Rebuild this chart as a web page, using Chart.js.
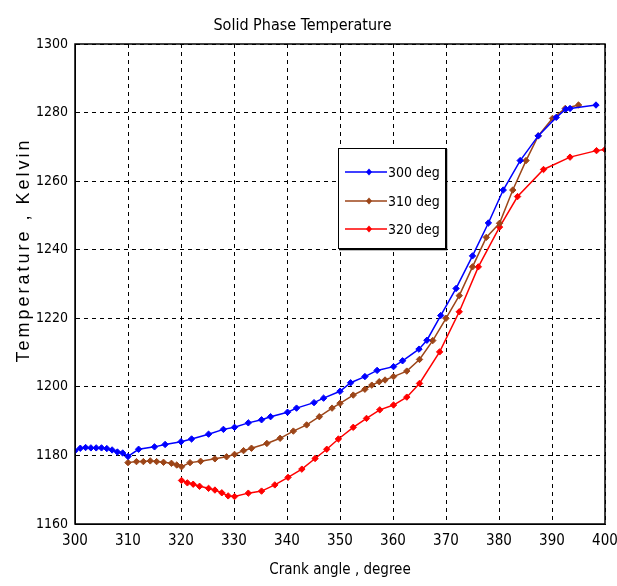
<!DOCTYPE html>
<html>
<head>
<meta charset="utf-8">
<title>Solid Phase Temperature</title>
<script src="https://cdn.jsdelivr.net/npm/chart.js@4.4.1/dist/chart.umd.min.js"></script>
<style>
    html, body { margin: 0; padding: 0; background: #fff; }
    #wrap { width: 617px; height: 586px; }
</style>
</head>
<body>
<div id="wrap"><canvas id="tempChart"></canvas></div>
<script>
// ==========================================================================
// Data (crank angle in degrees, temperature in K)
// ==========================================================================

const seriesLabels = ["300 deg", "310 deg", "320 deg"];
const seriesColors = ["#0000ff", "#9c4518", "#ff0000"];

const xTicks = [300, 310, 320, 330, 340, 350, 360, 370, 380, 390, 400];
const yTicks = [1160, 1180, 1200, 1220, 1240, 1260, 1280, 1300];

const angle300 = [300, 301, 302, 303, 304, 305, 306, 307, 308, 309, 310, 312, 315, 317, 320, 322,
    325.2, 328, 330.1, 332.7, 335.2, 336.9, 340.1, 341.8, 345.1, 346.9, 350, 352, 354.7, 357,
    360.1, 361.8, 364.9, 366.4, 369, 371.9, 375, 378, 380.8, 384, 387.4, 390.8, 392.6, 393.4, 398.3];
const temp300 = [1181.4, 1182.1, 1182.3, 1182.2, 1182.2, 1182.2, 1182.0, 1181.6, 1181.0, 1180.7, 1179.7, 1181.8, 1182.5, 1183.2, 1184.0, 1184.8,
    1186.2, 1187.6, 1188.2, 1189.5, 1190.4, 1191.3, 1192.6, 1193.8, 1195.4, 1196.7, 1198.7, 1201.2, 1203.0, 1204.8,
    1205.9, 1207.6, 1211.0, 1213.6, 1220.8, 1228.7, 1238.2, 1247.8, 1257.4, 1266.0, 1273.2, 1278.6, 1281.0, 1281.2, 1282.2];

const angle310 = [310, 311.6, 312.9, 314.2, 315.4, 316.7, 318.2, 319.2, 320.1, 321.7, 323.7, 326.4, 328.6, 330.1,
    331.8, 333.3, 336.2, 338.7, 341.2, 343.7, 346.1, 348.5, 350, 352.5, 354.7, 356, 357.4, 358.5, 360.1,
    362.6, 365, 367.5, 370, 372.5, 375, 377.6, 380.1, 382.6, 385.1, 387.4, 390.1, 392.5, 395];
const temp310 = [1177.9, 1178.2, 1178.2, 1178.4, 1178.2, 1178.0, 1177.7, 1177.2, 1176.7, 1177.9, 1178.3, 1179.0, 1179.6, 1180.3,
    1181.4, 1182.1, 1183.5, 1185.0, 1187.1, 1188.9, 1191.3, 1193.8, 1195.2, 1197.6, 1199.3, 1200.5, 1201.5, 1202.0, 1203.0,
    1204.6, 1208.0, 1213.5, 1220.0, 1226.6, 1235.0, 1243.6, 1247.7, 1257.4, 1266.0, 1273.2, 1278.3, 1281.2, 1282.2];

const angle320 = [320.1, 321.2, 322.3, 323.5, 325.2, 326.4, 327.7, 328.9, 330.1, 332.7, 335.2, 337.7, 340.2,
    342.8, 345.3, 347.5, 349.7, 352.5, 355, 357.5, 360.1, 362.6, 365, 368.8, 372.5, 376.1, 380.1,
    383.5, 388.4, 393.4, 398.4, 400];
const temp320 = [1172.7, 1172.0, 1171.6, 1171.0, 1170.4, 1169.9, 1169.1, 1168.2, 1168.0, 1169.0, 1169.6, 1171.4, 1173.6,
    1176.0, 1179.1, 1181.8, 1184.8, 1188.2, 1190.8, 1193.3, 1194.7, 1197.0, 1201.0, 1210.2, 1221.9, 1235.0, 1246.6,
    1255.5, 1263.4, 1267.0, 1268.9, 1269.2];

const angles = [angle300, angle310, angle320];
const temps = [temp300, temp310, temp320];

// ==========================================================================
// Fonts & small plugins (frame, boxed legend, spaced y-axis title)
// ==========================================================================

const NARROW = "'DejaVu Sans Condensed', 'Liberation Sans', sans-serif";

const framePlugin = {
    id: 'frameBox',
    afterDatasetsDraw(chart) {
        const { ctx, chartArea: a } = chart;
        ctx.save();
        ctx.strokeStyle = '#000';
        ctx.lineWidth = 1.5;
        ctx.setLineDash([]);
        ctx.strokeRect(a.left, a.top, a.right - a.left, a.bottom - a.top);
        ctx.restore();
    }
};

const boxLegendPlugin = {
    id: 'boxLegend',
    afterDatasetsDraw(chart) {
        const { ctx, chartArea: a } = chart;
        const left = a.left + 263, top = a.top + 104, w = 107, h = 100;
        ctx.save();
        ctx.setLineDash([]);
        ctx.fillStyle = '#fff';
        ctx.fillRect(left, top, w, h);
        ctx.strokeStyle = '#000';
        ctx.lineWidth = 1;
        ctx.strokeRect(left + 0.5, top + 0.5, w, h);
        ctx.lineWidth = 1.5;
        ctx.beginPath();
        ctx.moveTo(left + w + 1.5, top + 1);
        ctx.lineTo(left + w + 1.5, top + h + 1.5);
        ctx.lineTo(left + 1, top + h + 1.5);
        ctx.stroke();

        const rows = [24, 53, 81];
        chart.data.datasets.forEach((ds, i) => {
            const y = top + rows[i];
            ctx.strokeStyle = ds.borderColor;
            ctx.lineWidth = 1.5;
            ctx.beginPath();
            ctx.moveTo(left + 7, y);
            ctx.lineTo(left + 49, y);
            ctx.stroke();
            ctx.fillStyle = ds.borderColor;
            ctx.beginPath();
            ctx.moveTo(left + 31, y - 3.5);
            ctx.lineTo(left + 34, y);
            ctx.lineTo(left + 31, y + 3.5);
            ctx.lineTo(left + 28, y);
            ctx.closePath();
            ctx.fill();
            ctx.fillStyle = '#000';
            ctx.font = `14px ${NARROW}`;
            ctx.textAlign = 'left';
            ctx.textBaseline = 'middle';
            ctx.fillText(ds.label, left + 50, y + 1);
        });
        ctx.restore();
    }
};

const yTitlePlugin = {
    id: 'yTitle',
    afterDraw(chart) {
        const { ctx } = chart;
        ctx.save();
        ctx.translate(24, 250);
        ctx.rotate(-Math.PI / 2);
        ctx.font = "18px 'Liberation Sans', Arial, sans-serif";
        ctx.letterSpacing = '3px';
        ctx.fillStyle = '#000';
        ctx.textAlign = 'center';
        ctx.textBaseline = 'middle';
        ctx.fillText('Temperature , Kelvin', 0, 0);
        ctx.restore();
    }
};

// ==========================================================================
// Chart
// ==========================================================================

const datasets = seriesLabels.map((label, i) => ({
    label,
    data: angles[i].map((x, j) => ({ x, y: temps[i][j] })),
    borderColor: seriesColors[i],
    backgroundColor: seriesColors[i],
    borderWidth: 1.5,
    pointStyle: 'rectRot',
    pointRadius: 3.2,
    pointBorderWidth: 1,
    tension: 0
}));

new Chart(document.getElementById('tempChart'), {
    type: 'line',
    data: { datasets },
    options: {
        responsive: true,
        maintainAspectRatio: false,
        animation: false,
        devicePixelRatio: 1,
        layout: { padding: { left: 0, right: 12, top: 0, bottom: 0 } },
        plugins: {
            legend: { display: false },
            tooltip: { enabled: false },
            title: {
                display: true,
                text: 'Solid Phase Temperature',
                color: '#000',
                font: { family: NARROW, size: 16, weight: 'normal', lineHeight: 1.2 },
                padding: { top: 16, bottom: 8.8 }
            }
        },
        scales: {
            x: {
                type: 'linear',
                min: xTicks[0],
                max: xTicks[xTicks.length - 1],
                afterBuildTicks: s => { s.ticks = xTicks.map(v => ({ value: v })); },
                afterFit: s => { s.height = 62; s.paddingLeft = 0; s.paddingRight = 0; },
                ticks: { color: '#000', padding: 8, maxRotation: 0, font: { family: NARROW, size: 15 }, callback: v => String(v) },
                grid: { color: '#000', lineWidth: 1, drawTicks: false },
                border: { display: true, color: '#000', width: 1, dash: [4, 4] },
                title: {
                    display: true,
                    text: 'Crank angle , degree',
                    color: '#000',
                    font: { family: NARROW, size: 15, lineHeight: 1.2 },
                    padding: { top: 0, bottom: 7 }
                }
            },
            y: {
                type: 'linear',
                min: yTicks[0],
                max: yTicks[yTicks.length - 1],
                afterBuildTicks: s => { s.ticks = yTicks.map(v => ({ value: v })); },
                afterFit: s => { s.width = 75; s.paddingTop = 0; s.paddingBottom = 0; },
                ticks: { color: '#000', padding: 7, font: { family: NARROW, size: 14 }, callback: v => String(v) },
                grid: { color: '#000', lineWidth: 1, drawTicks: false },
                border: { display: true, color: '#000', width: 1, dash: [4, 4] }
            }
        }
    },
    plugins: [framePlugin, boxLegendPlugin, yTitlePlugin]
});
</script>
</body>
</html>
